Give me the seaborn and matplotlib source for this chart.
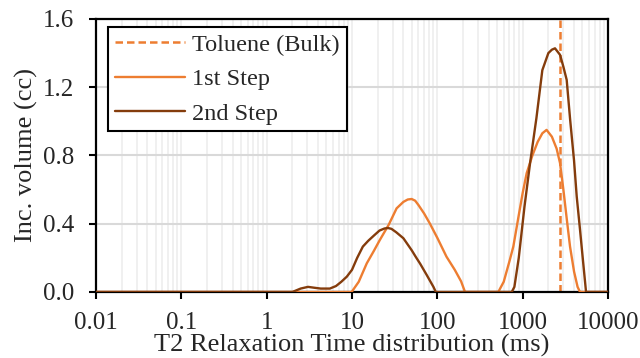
import matplotlib
matplotlib.use("Agg")
import matplotlib.pyplot as plt
import matplotlib.ticker as mticker
import numpy as np
import pandas as pd
import seaborn as sns

# T2 distribution, 1st step (time in ms, incremental volume in cc)
t_step1 = [0.01, 9.9, 12, 14.9, 18, 21.2, 27, 33.3, 40, 45, 50, 55, 60, 70,
           82, 100, 128, 160, 190, 211, 518, 600, 700, 777, 900, 1000, 1114,
           1300, 1500, 1700, 1906, 2200, 2500, 2740, 3000, 3300, 3590, 4000,
           4400, 4700, 10000]
v_step1 = [0, 0, 0.06, 0.168, 0.24, 0.305, 0.395, 0.49, 0.528, 0.542, 0.545,
           0.535, 0.51, 0.46, 0.40, 0.317, 0.207, 0.13, 0.062, 0, 0, 0.06,
           0.18, 0.266, 0.45, 0.58, 0.696, 0.80, 0.88, 0.93, 0.95, 0.91, 0.84,
           0.756, 0.60, 0.42, 0.266, 0.12, 0.03, 0, 0]

# T2 distribution, 2nd step
t_step2 = [0.01, 2.0, 2.5, 3.05, 3.6, 4.3, 5.5, 6.5, 7.5, 8.7, 10, 11.5, 13.4,
           15.5, 18, 21, 24, 26.4, 29, 33, 40, 50, 56, 63, 75, 90, 96, 745,
           800, 900, 1050, 1220, 1450, 1700, 2000, 2200, 2393, 2740, 3000,
           3280, 3600, 4000, 4300, 4700, 5100, 5530, 10000]
v_step2 = [0, 0, 0.02, 0.03, 0.025, 0.02, 0.02, 0.035, 0.06, 0.09, 0.13, 0.20,
           0.266, 0.30, 0.33, 0.36, 0.372, 0.375, 0.37, 0.35, 0.315, 0.245,
           0.205, 0.165, 0.10, 0.03, 0, 0, 0.03, 0.2, 0.50, 0.754, 1.02, 1.30,
           1.40, 1.42, 1.428, 1.39, 1.32, 1.243, 1.01, 0.77, 0.559, 0.365,
           0.18, 0, 0]

# Bulk toluene T2 (ms)
t_bulk = 2740

series_names = ["1st Step", "2nd Step"]
x_ticks = [0.01, 0.1, 1, 10, 100, 1000, 10000]
x_tick_labels = ["0.01", "0.1", "1", "10", "100", "1000", "10000"]
y_ticks = [0.0, 0.4, 0.8, 1.2, 1.6]

df = pd.concat([
    pd.DataFrame({"t": t_step1, "v": v_step1, "series": series_names[0]}),
    pd.DataFrame({"t": t_step2, "v": v_step2, "series": series_names[1]}),
], ignore_index=True)

sns.set_theme(style="white")
plt.rcParams["font.family"] = ["Liberation Serif", "DejaVu Serif"]

orange = "#ED7D31"
brown = "#843C0C"

fig = plt.figure(figsize=(6.4, 3.58), dpi=100)
ax = fig.add_axes([0.15, 0.1844, 0.80, 0.7626])

ax.set_xscale("log")
ax.set_xlim(0.01, 10000)
ax.set_ylim(0, 1.6)

# grid: light minor verticals, grey horizontals
ax.xaxis.set_minor_locator(mticker.LogLocator(base=10, subs=np.arange(2, 10)))
ax.grid(True, which="minor", axis="x", color="#EFEFEF", linewidth=1.3, zorder=0)
ax.grid(True, which="major", axis="x", color="#EFEFEF", linewidth=1.3, zorder=0)
ax.grid(True, which="major", axis="y", color="#D9D9D9", linewidth=1.5, zorder=0)
ax.set_axisbelow(True)

ax.axvline(t_bulk, color=orange, linestyle=(0, (3, 1.6)), linewidth=1.8,
           label="Toluene (Bulk)", zorder=2)

sns.lineplot(data=df, x="t", y="v", hue="series", palette=[orange, brown],
             estimator=None, sort=False, linewidth=1.7, ax=ax, zorder=3)

ax.set_xticks(x_ticks)
ax.set_xticklabels(x_tick_labels)
ax.set_yticks(y_ticks)
ax.yaxis.set_major_formatter(mticker.FormatStrFormatter("%.1f"))
ax.tick_params(axis="both", which="major", direction="out", length=5, width=1.5,
               color="black", labelsize=18, bottom=True, left=True)
ax.tick_params(axis="x", which="major", pad=9.5)
ax.tick_params(axis="y", which="major", pad=10.5)
ax.tick_params(axis="x", which="minor", length=0)

for side in ["left", "right", "top", "bottom"]:
    ax.spines[side].set_color("black")
    ax.spines[side].set_linewidth(1.6)

ax.set_xlabel("T2 Relaxation Time distribution (ms)", fontsize=19, labelpad=0)
ax.set_ylabel("Inc. volume (cc)", fontsize=19, labelpad=4)

handles, labels = ax.get_legend_handles_labels()
order = [labels.index("Toluene (Bulk)"), labels.index("1st Step"),
         labels.index("2nd Step")]
leg = ax.legend([handles[i] for i in order], [labels[i] for i in order],
                loc="upper left", bbox_to_anchor=(0.0234, 0.9707),
                borderaxespad=0, fontsize=17.5, handlelength=2.9,
                labelspacing=0.52, fancybox=False, framealpha=1,
                edgecolor="black", borderpad=0.27, handletextpad=0.3)
leg.get_frame().set_linewidth(1.5)

fig.savefig("out.png", dpi=100)
